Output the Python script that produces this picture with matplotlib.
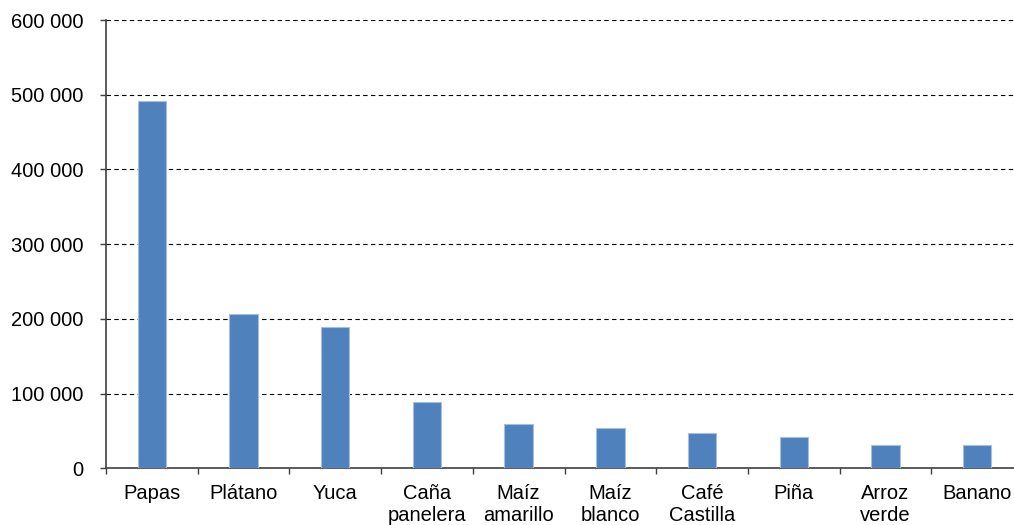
import numpy as np
import matplotlib.pyplot as plt
from matplotlib.ticker import FuncFormatter, FixedLocator

plt.rcParams['font.family'] = ['Liberation Sans', 'DejaVu Sans']

cultivos = ['Papas', 'Plátano', 'Yuca', 'Caña\npanelera', 'Maíz\namarillo',
            'Maíz\nblanco', 'Café\nCastilla', 'Piña', 'Arroz\nverde', 'Banano']
valores = [492000, 206100, 189100, 88300, 59300, 53500, 47200, 41500, 30800, 30800]

fig = plt.figure(figsize=(10.14, 5.25), dpi=100)
# the right end of the axis runs slightly past the picture edge, as in the original
ax = fig.add_axes([106 / 1014, 56.7 / 525, 917 / 1014, 448.3 / 525])

x = np.arange(len(cultivos))
ax.bar(x, valores, width=0.31, color='#4F81BD', edgecolor='#A7BFDE', linewidth=0.8, zorder=3)

ax.set_xlim(-0.5, len(cultivos) - 0.5)
ax.set_ylim(0, 600000)
ax.set_yticks(np.arange(0, 600001, 100000))
ax.yaxis.set_major_formatter(FuncFormatter(lambda v, p: f'{int(v):,}'.replace(',', ' ')))
ax.grid(axis='y', linestyle=(0, (4, 3)), color='black', linewidth=0.8, zorder=0)

ax.set_xticks(x)
ax.set_xticklabels(cultivos, fontsize=14.5, linespacing=1.2)
ax.xaxis.set_minor_locator(FixedLocator(np.arange(-0.5, len(cultivos), 1)))
ax.tick_params(axis='x', which='major', length=0, pad=11)
ax.tick_params(axis='x', which='minor', length=4.3, width=1, color='#404040')
ax.tick_params(axis='y', length=4.3, width=1, color='#404040', labelsize=14.5, pad=12)

for s in ['top', 'right']:
    ax.spines[s].set_visible(False)
for s in ['left', 'bottom']:
    ax.spines[s].set_color('#404040')
    ax.spines[s].set_linewidth(1.2)

fig.savefig('out.png', dpi=100)
